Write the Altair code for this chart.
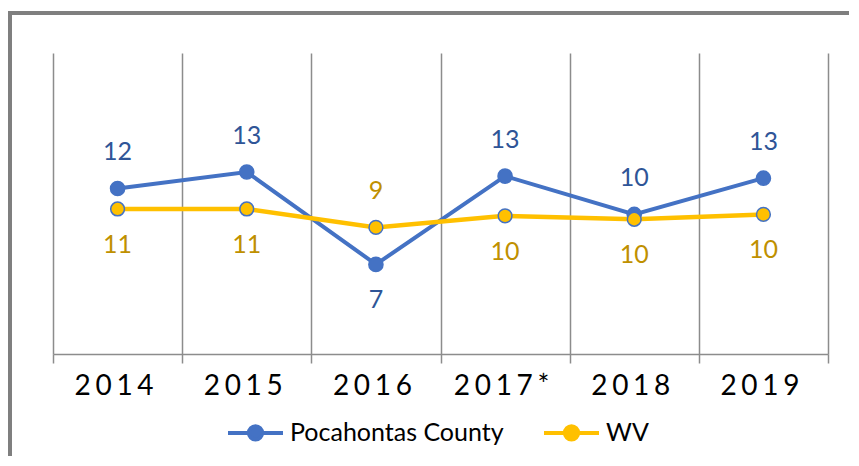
import altair as alt
import pandas as pd

years = ["2014", "2015", "2016", "2017*", "2018", "2019"]
series_names = ["Pocahontas County", "WV"]
county_values = [12.1, 13.3, 6.55, 13.0, 10.2, 12.85]
wv_values = [10.6, 10.6, 9.25, 10.1, 9.85, 10.2]
county_label_pos = ["above", "above", "below", "above", "above", "above"]
wv_label_pos = ["below", "below", "above", "below", "below", "below"]

BLUE = "#4472C4"
YELLOW = "#FFC000"
BLUE_TXT = "#2F5597"
YELLOW_TXT = "#BF9000"
GRID = "#8c8c8c"
FRAME = "#7f7f7f"
FONT = "Lato"

rows = []
for y, v, p in zip(years, county_values, county_label_pos):
    rows.append({"year": y, "series": series_names[0], "value": v, "pos": p})
for y, v, p in zip(years, wv_values, wv_label_pos):
    rows.append({"year": y, "series": series_names[1], "value": v, "pos": p})
df = pd.DataFrame(rows)

x_enc = alt.X(
    "year:N",
    sort=years,
    scale=alt.Scale(domain=years, paddingInner=0, paddingOuter=0),
    axis=alt.Axis(
        title=None, tickBand="extent", grid=True, gridColor=GRID, gridWidth=1.5,
        domainColor=GRID, domainWidth=1.5, tickColor=GRID, tickWidth=1.5, tickSize=9,
        labelFont=FONT, labelFontSize=28, labelColor="#000000", labelPadding=9,
        labelOffset=-4, labelAngle=0,
        labelExpr="join(split(datum.label, ''), '\u2006')",
    ),
)
y_enc = alt.Y("value:Q", scale=alt.Scale(domain=[0, 22]), axis=None)

base = alt.Chart(df).encode(x=x_enc, y=y_enc)

LEGEND_PATH = "M-1,0H1M0.24,0A0.24,0.24,0,1,1,-0.24,0A0.24,0.24,0,1,1,0.24,0Z"
leg = alt.Legend(
    title=None, orient="none", legendX=173, legendY=350, direction="horizontal",
    symbolType=LEGEND_PATH, symbolSize=3025, symbolStrokeWidth=4, symbolOpacity=1,
    labelFont=FONT, labelFontSize=25, labelColor="#000000", labelLimit=500,
    columnPadding=32, labelOffset=5, padding=0,
)
ser_scale = alt.Scale(domain=series_names, range=[BLUE, YELLOW])

frame_src = alt.Chart(pd.DataFrame({"k": [0]}))
frame_top = frame_src.mark_rule(color=FRAME, strokeWidth=4).encode(
    x=alt.value(-43), x2=alt.value(796), y=alt.value(-40)
)
frame_left = frame_src.mark_rule(color=FRAME, strokeWidth=4).encode(
    x=alt.value(-43), y=alt.value(-42), y2=alt.value(403)
)

is_county = alt.datum.series == series_names[0]
is_wv = alt.datum.series == series_names[1]

line_c = base.transform_filter(is_county).mark_line(color=BLUE, strokeWidth=4)
line_w = base.transform_filter(is_wv).mark_line(color=YELLOW, strokeWidth=4.5)

carrier = base.mark_point(shape="circle", filled=True, size=90, opacity=1, strokeWidth=1).encode(
    fill=alt.Fill("series:N", scale=ser_scale, legend=leg),
    stroke=alt.Stroke("series:N", scale=ser_scale, legend=leg),
)

pts_c = base.transform_filter(is_county).mark_point(
    shape="circle", filled=True, fill=BLUE, stroke=BLUE, strokeWidth=1.5, size=200, opacity=1
)
pts_w = base.transform_filter(is_wv).mark_point(
    shape="circle", filled=True, fill=YELLOW, stroke=BLUE, strokeWidth=1.5, size=190, opacity=1
)

txt_color = alt.when(is_county).then(alt.value(BLUE_TXT)).otherwise(alt.value(YELLOW_TXT))
text_above = base.transform_filter(alt.datum.pos == "above").mark_text(
    dy=-36, font=FONT, fontSize=25, baseline="middle"
).encode(text=alt.Text("value:Q", format=".0f"), color=txt_color)
text_below = base.transform_filter(alt.datum.pos == "below").mark_text(
    dy=36, font=FONT, fontSize=25, baseline="middle"
).encode(text=alt.Text("value:Q", format=".0f"), color=txt_color)

chart = (
    alt.layer(frame_top, frame_left, line_c, carrier, pts_c, line_w, pts_w, text_above, text_below)
    .properties(width=775, height=301, padding={"left": 0, "top": 1, "right": 0, "bottom": 0},
                background="white")
    .configure_view(strokeWidth=0)
)

chart.save("out.html", embed_options={"renderer": "svg", "actions": False})
